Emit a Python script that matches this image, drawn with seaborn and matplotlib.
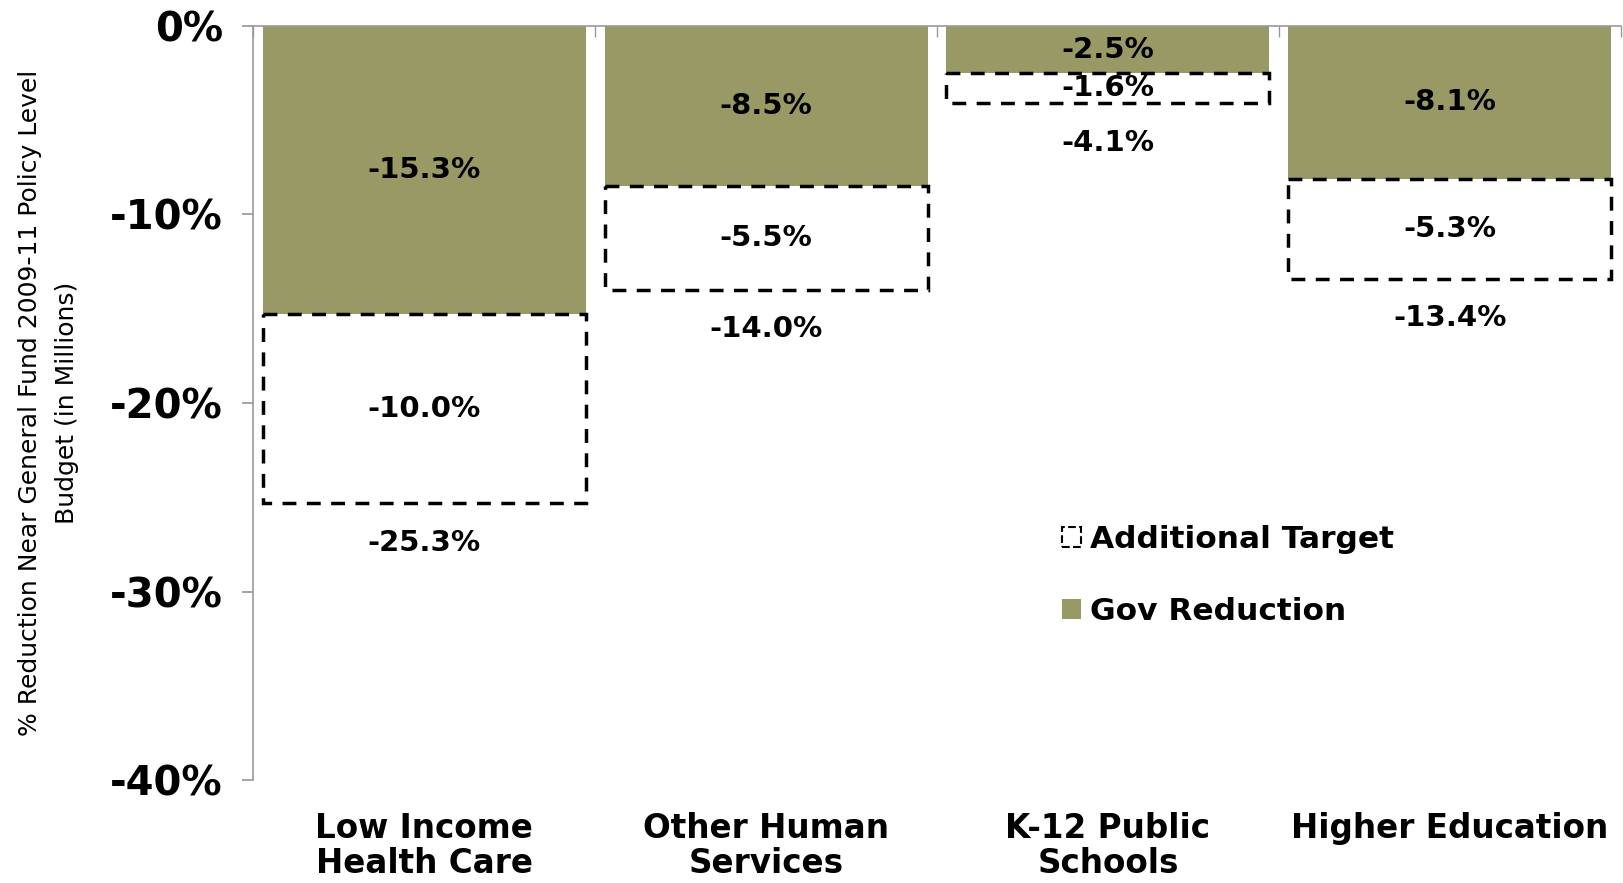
import matplotlib
matplotlib.use("Agg")
import matplotlib.pyplot as plt
from matplotlib.patches import Patch
import seaborn as sns
import numpy as np

categories = ["Low Income\nHealth Care", "Other Human\nServices", "K-12 Public\nSchools", "Higher Education"]
gov_reduction = [-15.3, -8.5, -2.5, -8.1]
additional_target = [-10.0, -5.5, -1.6, -5.3]
total_labels = ["-25.3%", "-14.0%", "-4.1%", "-13.4%"]
yticks = [0, -10, -20, -30, -40]
ytick_labels = ["0%", "-10%", "-20%", "-30%", "-40%"]

olive = "#999966"
sns.set_theme(style="white")
plt.rcParams['font.family'] = ['DejaVu Sans']
plt.rcParams['text.color'] = 'black'
plt.rcParams['axes.labelcolor'] = 'black'

fig = plt.figure(figsize=(16.24, 8.83), dpi=100)
ax = fig.add_axes([0.156, 0.1166, 0.842, 0.854])

width = 0.945
sns.barplot(x=categories, y=gov_reduction, color=olive, width=width, ax=ax,
            saturation=1, edgecolor="none")
x = np.arange(len(categories))
gov = np.array(gov_reduction)
add = np.array(additional_target)
ax.bar(x, add, bottom=gov, width=width, facecolor="white", edgecolor="black",
       linestyle=(0, (4, 3)), linewidth=2.5)

lbl_size = 21
for i in range(len(categories)):
    ax.text(x[i], gov[i] / 2, f"{gov[i]:.1f}%", ha="center", va="center",
            fontsize=lbl_size, fontweight="bold", color="black")
    ax.text(x[i], gov[i] + add[i] / 2, f"{add[i]:.1f}%", ha="center", va="center",
            fontsize=lbl_size, fontweight="bold", color="black")
    ax.text(x[i], gov[i] + add[i] - 2.1, total_labels[i], ha="center", va="center",
            fontsize=lbl_size, fontweight="bold", color="black")

ax.set_xlim(-0.5, 3.5)
ax.set_ylim(-40, 0)
ax.set_yticks(yticks)
ax.set_yticklabels(ytick_labels, fontsize=29, fontweight="bold")
ax.set_xticks(x)
ax.set_xticklabels(categories, fontsize=23.5, fontweight="bold", linespacing=1.08)
ax.set_xticks(np.arange(-0.5, 4, 1), minor=True)
ax.tick_params(axis="x", which="major", length=0, pad=23, labelcolor="black")
ax.tick_params(axis="x", which="minor", top=True, bottom=False, direction="in",
               length=8, color="#999999")
ax.tick_params(axis="y", which="major", left=True, direction="out", length=8,
               color="#999999", pad=14, labelcolor="black")

for s in ["right", "bottom"]:
    ax.spines[s].set_visible(False)
for s in ["left", "top"]:
    ax.spines[s].set_visible(True)
    ax.spines[s].set_color("#999999")
    ax.spines[s].set_linewidth(1.2)

ax.set_ylabel("% Reduction Near General Fund 2009-11 Policy Level\nBudget (in Millions)",
              fontsize=18, labelpad=22, linespacing=1.7)

handles = [Patch(facecolor="white", edgecolor="black", linestyle="--", linewidth=1.5,
                 label="Additional Target"),
           Patch(facecolor=olive, edgecolor="none", label="Gov Reduction")]
leg = ax.legend(handles=handles, loc="upper left", bbox_to_anchor=(0.571, 0.376),
                frameon=False, prop={"size": 22.5, "weight": "bold"},
                handlelength=0.6, handleheight=0.6, handletextpad=0.3,
                labelspacing=1.4)

fig.savefig("out.png", dpi=100)
